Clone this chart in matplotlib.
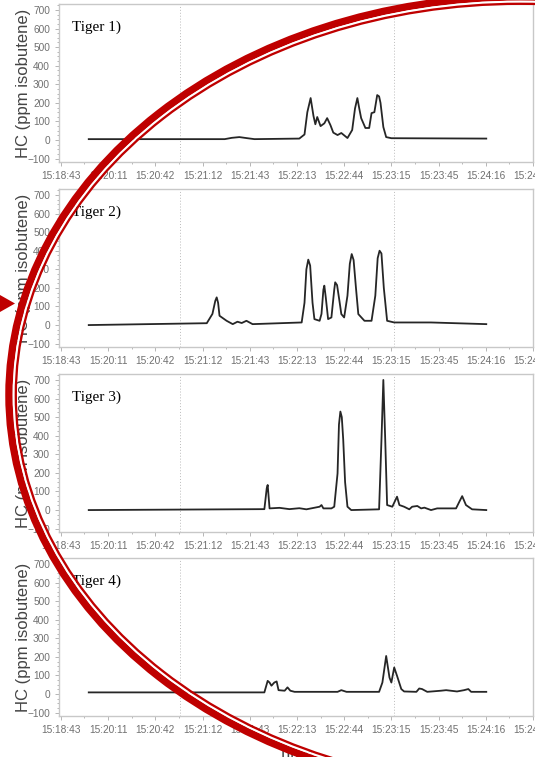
import matplotlib
matplotlib.use('Agg')
import matplotlib.pyplot as plt
from matplotlib.patches import Ellipse, Polygon
from matplotlib.ticker import MultipleLocator

# tick labels on the time axis (one tick per unit)
time_labels = ['15:18:43', '15:20:11', '15:20:42', '15:21:12', '15:21:43', '15:22:13',
               '15:22:44', '15:23:15', '15:23:45', '15:24:16', '15:24:46']
panel_names = ['Tiger 1)', 'Tiger 2)', 'Tiger 3)', 'Tiger 4)']

# HC traces (time in tick units, ppm isobutene)
t1 = [0.59, 3.47, 3.62, 3.78, 3.95, 4.10, 5.05, 5.16, 5.22, 5.29, 5.35, 5.39, 5.43, 5.50, 5.58,
      5.64, 5.71, 5.77, 5.86, 5.94, 6.07, 6.17, 6.23, 6.28, 6.32, 6.36, 6.45, 6.53, 6.58, 6.64,
      6.70, 6.74, 6.77, 6.83, 6.89, 7.00, 9.01]
hc1 = [5, 5, 12, 16, 10, 5, 8, 30, 150, 226, 130, 85, 124, 75, 90,
       118, 80, 40, 27, 38, 11, 54, 170, 226, 170, 118, 65, 65, 145, 150,
       242, 235, 200, 70, 16, 10, 8]

t2 = [0.59, 3.09, 3.21, 3.27, 3.30, 3.33, 3.36, 3.51, 3.64, 3.74, 3.83, 3.93, 4.06, 5.10, 5.16,
      5.20, 5.24, 5.28, 5.33, 5.37, 5.48, 5.52, 5.56, 5.58, 5.61, 5.66, 5.73, 5.79, 5.81, 5.85,
      5.90, 5.94, 6.00, 6.07, 6.12, 6.16, 6.20, 6.25, 6.30, 6.43, 6.58, 6.66, 6.71, 6.75, 6.79,
      6.84, 6.91, 7.06, 7.84, 9.01]
hc2 = [0, 10, 60, 130, 149, 120, 50, 23, 5, 18, 11, 23, 5, 14, 120,
       300, 352, 320, 120, 32, 23, 60, 190, 212, 150, 32, 41, 190, 230, 215,
       130, 59, 41, 158, 330, 382, 350, 200, 59, 23, 23, 158, 360, 400, 385,
       200, 23, 14, 14, 5]

t3 = [0.59, 4.31, 4.36, 4.38, 4.42, 4.63, 4.84, 5.05, 5.20, 5.48, 5.52, 5.56, 5.73, 5.79, 5.86,
      5.89, 5.92, 5.95, 5.98, 6.02, 6.07, 6.15, 6.74, 6.79, 6.83, 6.87, 6.91, 7.02, 7.12, 7.17,
      7.27, 7.38, 7.44, 7.55, 7.63, 7.70, 7.84, 7.97, 8.37, 8.44, 8.50, 8.58, 8.71, 9.01]
hc3 = [0, 5, 117, 135, 9, 12, 5, 10, 4, 18, 27, 9, 9, 18, 197,
       460, 530, 500, 380, 150, 18, 0, 4, 377, 700, 377, 27, 18, 72, 27,
       18, 4, 18, 22, 9, 13, 0, 9, 9, 45, 75, 27, 4, 0]

t4 = [0.59, 4.31, 4.38, 4.42, 4.46, 4.52, 4.57, 4.61, 4.74, 4.80, 4.86, 4.95, 5.86, 5.94, 6.05,
      6.74, 6.81, 6.89, 6.96, 7.00, 7.06, 7.12, 7.21, 7.27, 7.53, 7.59, 7.65, 7.76, 8.05, 8.16,
      8.39, 8.54, 8.63, 8.69, 9.01]
hc4 = [9, 9, 71, 62, 45, 62, 68, 21, 18, 36, 18, 12, 12, 21, 12,
       12, 62, 205, 89, 62, 143, 98, 27, 14, 12, 30, 27, 12, 18, 21,
       14, 21, 27, 12, 12]

times = [t1, t2, t3, t4]
values = [hc1, hc2, hc3, hc4]

W, H = 535, 757
fig = plt.figure(figsize=(W / 100, H / 100), dpi=100)

tops = [4, 189, 374, 558]
grey = '#707070'
axes = []
for i in range(4):
    ax = fig.add_axes([59 / W, 1 - (tops[i] + 158) / H, 474 / W, 158 / H])
    ax.plot(times[i], values[i], color='#262626', lw=1.3)
    ax.set_xlim(-0.04, 9.98)
    ax.set_ylim(-118, 732)
    ax.set_xticks(range(len(time_labels)))
    ax.set_xticklabels(time_labels)
    ax.xaxis.set_minor_locator(MultipleLocator(0.5))
    ax.set_yticks(range(-100, 701, 100))
    ax.yaxis.set_minor_locator(MultipleLocator(25))
    ax.tick_params(which='both', direction='out', colors='#aaaaaa', labelcolor=grey,
                   labelsize=7.3, length=3, width=0.6)
    ax.tick_params(which='minor', length=1.5)
    for lab in ax.get_xticklabels() + ax.get_yticklabels():
        lab.set_family('Liberation Sans')
    for sp in ax.spines.values():
        sp.set_color('#c8c8c8')
        sp.set_linewidth(1.0)
    for gx in (2.52, 7.06):
        ax.axvline(gx, color='#bbbbbb', ls=(0, (1, 2)), lw=0.7, zorder=0)
    ax.text(0.027, 0.855, panel_names[i], transform=ax.transAxes, family='Liberation Serif',
            fontsize=11, color='black', va='center')
    ax.set_ylabel('HC (ppm isobutene)', family='Liberation Sans', fontsize=12, color='#444444')
    ax.yaxis.set_label_coords(-0.06, 0.5)
    axes.append(ax)

axes[-1].set_xlabel('Time', family='Liberation Sans', fontsize=12, color='#444444', labelpad=9)

# red double ring drawn over the figure
red = '#bf0000'
cx, cy, rx, ry = 520, 395, 511, 398


def ring(off, lw_px, color):
    e = Ellipse((cx / W, 1 - cy / H), 2 * (rx - off) / W, 2 * (ry - off) / H,
                transform=fig.transFigure, fill=False, ec=color, lw=lw_px * 0.72,
                clip_on=False, zorder=10)
    fig.add_artist(e)


ring(0, 7.5, red)
ring(4.7, 2.2, 'white')
ring(6.8, 2.3, red)

arrow = Polygon([(0, 1 - 295 / H), (15 / W, 1 - 303.5 / H), (0, 1 - 312 / H)],
                closed=True, transform=fig.transFigure, fc=red, ec='none', zorder=10)
fig.add_artist(arrow)

fig.savefig('out.png', dpi=100)
